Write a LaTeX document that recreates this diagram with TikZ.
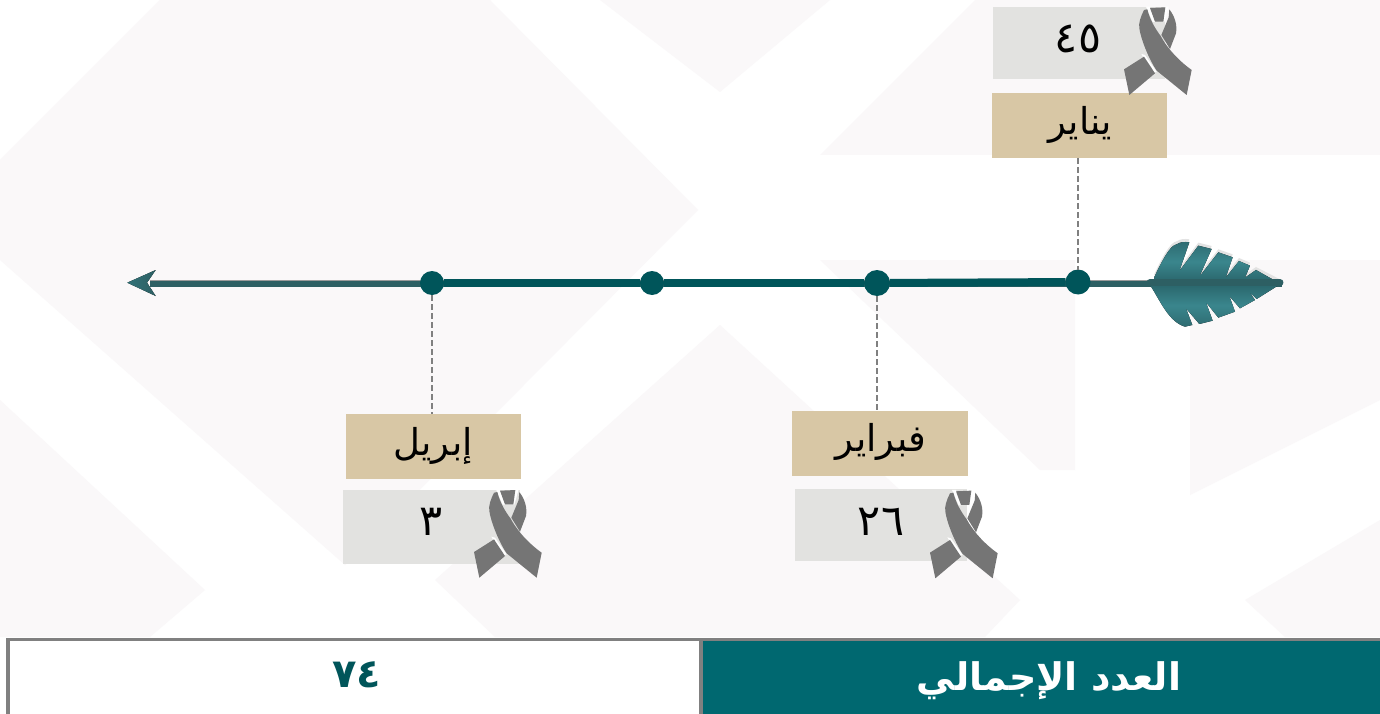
\documentclass[tikz,border=0pt]{standalone}
\usepackage{fontspec}
\TeXXeTstate=1
\newfontfamily\arabicfont[Script=Arabic]{DejaVu Sans}
\definecolor{faint}{HTML}{FAF8F9}
\definecolor{beige}{HTML}{D8C7A5}
\definecolor{lightbox}{HTML}{E2E2E0}
\definecolor{ribbongray}{HTML}{757575}
\definecolor{deepteal}{HTML}{00555A}
\definecolor{tablegreen}{HTML}{006870}
\definecolor{rulegray}{HTML}{808080}
\definecolor{shaftdark}{HTML}{2D5F63}
\definecolor{barbteal}{HTML}{3A868D}
\definecolor{barbdark}{HTML}{2A666C}
\tikzset{
  x=1pt,y=-1pt,
  bgshape/.style={fill=faint,draw=none},
  monthbox/.style={fill=beige,draw=none,inner sep=0pt,outer sep=0pt},
  countbox/.style={fill=lightbox,draw=none,inner sep=0pt,outer sep=0pt},
  monthtext/.style={font=\arabicfont\fontsize{37}{40}\selectfont,text=black,inner sep=0pt},
  counttext/.style={font=\arabicfont\fontsize{43}{46}\selectfont,text=black,inner sep=0pt},
  dot/.style={circle,fill=deepteal,draw=none,inner sep=0pt,outer sep=0pt},
  guide/.style={draw=rulegray,line width=2.5pt,dash pattern=on 6pt off 3pt},
}
\newcommand{\ribbonat}[2]{%
  \begin{scope}[shift={(#1,#2)},x=0.3333pt,y=-0.3333pt]
    \fill[white] (78,20) -- (90,20) -- (106,66) -- (98,66) -- cycle;
    \fill[white] (134,20) -- (146,20) -- (133,66) -- (130,66) -- cycle;
    \fill[white] (64,162) -- (75,165) -- (110,215) -- (98,218) -- cycle;
    \fill[ribbongray] (90,24) -- (136,22) -- (130,65) -- (105,65) -- cycle;
    \fill[ribbongray] (72,30) .. controls (62,50) and (55,70) .. (58,85)
      .. controls (62,115) and (85,175) .. (110,212) -- (200,285) -- (215,210)
      .. controls (180,185) and (145,150) .. (122,108) .. controls (105,85) and (90,60) .. (82,28) -- cycle;
    \fill[ribbongray] (148,28) .. controls (165,50) and (172,75) .. (168,100) -- (150,147) -- (124,105) -- (146,52) -- cycle;
    \fill[ribbongray] (72,170) -- (105,220) -- (28,285) -- (12,208) -- cycle;
  \end{scope}}
\begin{document}
\begin{tikzpicture}
\useasboundingbox (0,0) rectangle (1380,714);
\fill[white] (0,0) rectangle (1380,714);
% faint background marks
\fill[bgshape] (0,160) -- (160,0) -- (490,0) -- (698,210) -- (345,565) -- (0,260) -- cycle;
\fill[bgshape] (600,0) -- (830,0) -- (720,92) -- cycle;
\fill[bgshape] (820,155) -- (975,0) -- (1380,0) -- (1380,155) -- cycle;
\fill[bgshape] (820,260) -- (1075,260) -- (1075,470) -- (1040,470) -- cycle;
\fill[bgshape] (1190,260) -- (1380,260) -- (1380,400) -- (1190,495) -- cycle;
\fill[bgshape] (0,400) -- (205,590) -- (150,637) -- (0,637) -- cycle;
\fill[bgshape] (720,325) -- (1020,600) -- (985,637) -- (495,637) -- (435,580) -- cycle;
\fill[bgshape] (1380,520) -- (1245,600) -- (1285,637) -- (1380,637) -- cycle;
% shaft, left part and head
\fill[rulegray!80] (150,279.5) rectangle (1282,281);
\fill[shaftdark] (150,281) rectangle (1282,287);
\fill[left color=barbteal!85!black,right color=shaftdark] (127.3,282.7) -- (155.7,270) -- (147,282.7) -- (155.7,296) -- cycle;
% feather
\begin{scope}[shift={(1060,225)},x=0.3333pt,y=-0.3333pt]
  \begin{scope}[yshift=3pt]
  \fill[gray!22] (282,158) .. controls (305,110) and (330,60) .. (350,58) .. controls (362,50) and (375,50) .. (388,52)
    -- (358,138) -- (415,62) -- (455,72) -- (418,155) -- (475,82) -- (518,97) -- (497,158) -- (537,108) -- (570,122)
    -- (555,158) -- (588,135) -- (660,172) -- cycle;
  \end{scope}
  \fill[top color=barbteal!80!black,bottom color=barbdark,middle color=barbteal] (282,158) .. controls (305,110) and (330,60) .. (350,58) .. controls (362,50) and (375,50) .. (388,52)
    -- (358,138) -- (415,62) -- (455,72) -- (418,155) -- (475,82) -- (518,97) -- (497,158) -- (537,108) -- (570,122)
    -- (555,158) -- (588,135) -- (650,170) -- (282,170) -- cycle;
  \fill[top color=barbdark,bottom color=barbteal!80!black,middle color=barbteal] (270,180) .. controls (300,225) and (325,290) .. (375,305) -- (397,300) -- (378,250) -- (418,297) -- (458,287)
    -- (438,232) -- (475,278) -- (525,260) -- (508,213) -- (540,250) -- (585,225) -- (567,200) -- (590,222) -- (660,178) -- cycle;
  \draw[line width=7pt,shaftdark,line cap=round] (270,173) -- (660,173);
\end{scope}
% connector dots
\node[dot,minimum size=24pt] (d1) at (432,283) {};
\node[dot,minimum size=24pt] (d2) at (652,283) {};
\node[dot,minimum size=26pt] (d3) at (877,283) {};
\node[dot,minimum size=25pt] (d4) at (1078,282) {};
\draw[deepteal,line width=8pt] (d1) -- (d2);
\draw[deepteal,line width=8pt] (d2) -- (d3);
\draw[deepteal,line width=8pt] (d3) -- (d4);
% boxes
\node[monthbox,minimum width=175pt,minimum height=65pt] (janbox) at (1079.5,125.5) {};
\node[monthbox,minimum width=176pt,minimum height=65pt] (febbox) at (880,443.5) {};
\node[monthbox,minimum width=175pt,minimum height=65pt] (aprbox) at (433.5,446.5) {};
\node[countbox,minimum width=172pt,minimum height=72pt] (jancount) at (1079,43) {};
\node[countbox,minimum width=172pt,minimum height=72pt] (febcount) at (881,525) {};
\node[countbox,minimum width=177pt,minimum height=74pt] (aprcount) at (431.5,527) {};
\draw[guide] (janbox.south -| d4) -- (d4.north);
\draw[guide] (d3.south) -- (febbox.north -| d3);
\draw[guide] (d1.south) -- (aprbox.north -| d1);
% month labels
\node[monthtext] (jant) at (1080,125) {\beginR يناير\endR};
\node[monthtext] (febt) at (881,442) {\beginR فبراير\endR};
\node[monthtext] (aprt) at (433,446) {\beginR إبريل\endR};
% counts
\node[counttext] (janc) at (1078,39) {٤٥};
\node[counttext] (febc) at (881,522) {٢٦};
\node[counttext] (aprc) at (431,522) {٣};
% ribbons
\ribbonat{1120}{0}
\ribbonat{926}{483.3}
\ribbonat{470}{482.7}
% total table
\node[fill=white,draw=none,inner sep=0pt,outer sep=0pt,minimum width=693pt,minimum height=73pt] (totalcell) at (356,677.5) {};
\node[fill=tablegreen,draw=none,inner sep=0pt,outer sep=0pt,minimum width=677pt,minimum height=73pt] (labelcell) at (1041.5,677.5) {};
\fill[rulegray] (6,637.5) rectangle (1380,641);
\fill[rulegray] (6,637.5) rectangle (10,714);
\fill[rulegray] (699,637.5) rectangle (703,714);
\node[font=\arabicfont\bfseries\fontsize{40}{44}\selectfont,text=deepteal,inner sep=0pt] (total) at (357,675) {٧٤};
\node[font=\arabicfont\bfseries\fontsize{38}{42}\selectfont,text=white,inner sep=0pt] (totallabel) at (1049,681) {\beginR العدد الإجمالي\endR};
\end{tikzpicture}
\end{document}
